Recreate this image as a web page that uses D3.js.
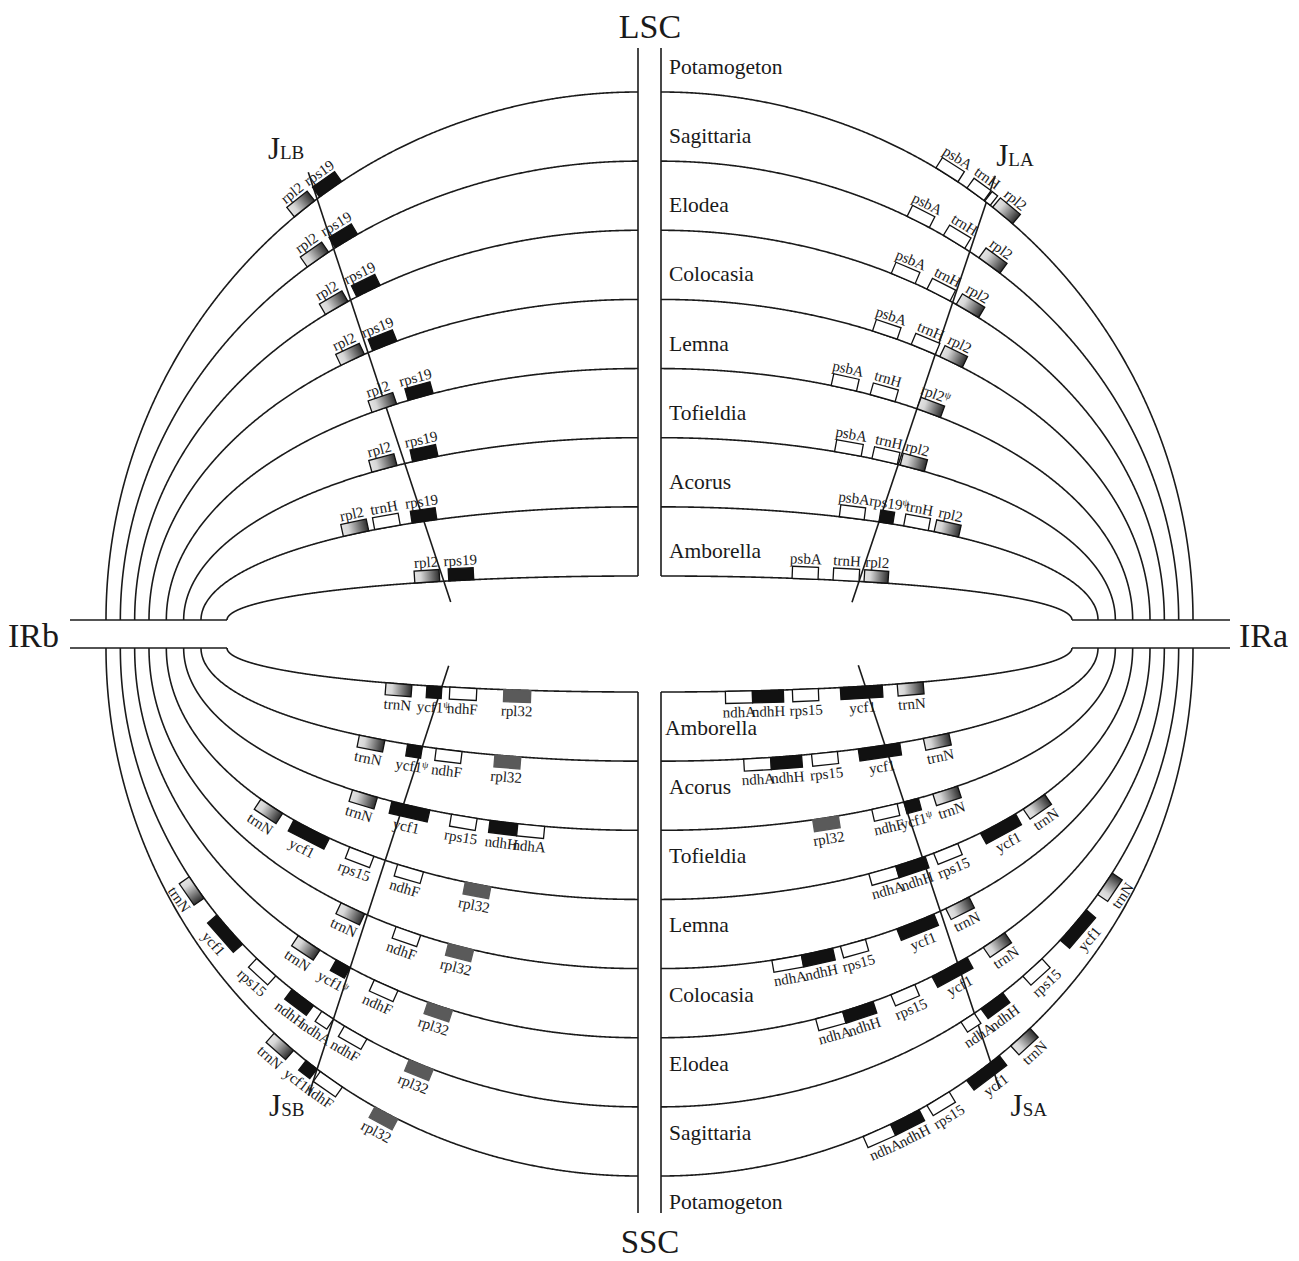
<!DOCTYPE html>
<html>
<head>
<meta charset="utf-8">
<script src="https://cdn.jsdelivr.net/npm/d3@7"></script>
<style>
  body { margin: 0; background: #fff; }
  svg text { font-family: "Liberation Serif", "Times New Roman", serif; fill: #1a1a1a; }
</style>
</head>
<body>
<div id="chart"></div>
<script>
// species, from the outermost arc to the innermost one
const species = ["Potamogeton", "Sagittaria", "Elodea", "Colocasia", "Lemna", "Tofieldia", "Acorus", "Amborella"];

// genes on each arc: [name, start, end] measured along the arc from the junction
// (positive = into the inverted repeat, negative = into the single copy region)
const genesJLB = [
    [["rpl2", 3, 29], ["rps19", -30, -3]],
    [["rpl2", 6, 32], ["rps19", -28, -2]],
    [["rpl2", 3, 29], ["rps19", -33, -7]],
    [["rpl2", 4, 30], ["rps19", -31, -5]],
    [["rpl2", -11, 15], ["rps19", -49, -23]],
    [["rpl2", 8, 34], ["rps19", -34, -8]],
    [["rpl2", 56, 82], ["trnH", 24, 50], ["rps19", -13, 12]],
    [["rpl2", 4, 29], ["rps19", -30, -5]]
];
const genesJLA = [
    [["psbA", -61, -35], ["trnH", -24, -3], ["", -2, 5], ["rpl2", 8, 34]],
    [["psbA", -72, -47], ["trnH", -31, -6], ["rpl2", 11, 37]],
    [["psbA", -68, -42], ["trnH", -29, -3], ["rpl2", 4, 30]],
    [["psbA", -67, -41], ["trnH", -26, 0], ["rpl2", 5, 30]],
    [["psbA", -89, -63], ["trnH", -49, -23], ["rpl2ψ", 0, 25]],
    [["psbA", -65, -38], ["trnH", -27, -1], ["rpl2", 2, 27]],
    [["psbA", -40, -15], ["rps19ψ", 0, 14], ["trnH", 25, 50], ["rpl2", 56, 81]],
    [["psbA", -67, -41], ["trnH", -26, 0], ["rpl2", 5, 29]]
];
const genesJSB = [
    [["trnN", 30, 56], ["ycf1ψ", 0, 14], ["ndhF", -31, -4], ["rpl32", -95, -69]],
    [["trnN", 178, 204], ["ycf1", 118, 157], ["rps15", 72, 98], ["ndhH", 24, 51], ["ndhA", 0, 14], ["ndhF", -39, -13], ["rpl32", -112, -86]],
    [["trnN", 35, 61], ["ycf1ψ", 0, 16], ["ndhF", -53, -27], ["rpl32", -111, -85]],
    [["trnN", 3, 29], ["ndhF", -57, -31], ["rpl32", -112, -86]],
    [["trnN", 113, 139], ["ycf1", 60, 100], ["rps15", 12, 38], ["ndhF", -40, -13], ["rpl32", -109, -83]],
    [["trnN", 27, 53], ["ycf1", -27, 12], ["rps15", -75, -49], ["ndhH", -116, -88], ["ndhA", -143, -116]],
    [["trnN", 38, 64], ["ycf1ψ", 0, 15], ["ndhF", -40, -14], ["rpl32", -99, -73]],
    [["trnN", 30, 56], ["ycf1ψ", 0, 15], ["ndhF", -35, -8], ["rpl32", -89, -62]]
];
const genesJSA = [
    [["ndhA", -148, -118], ["ndhH", -118, -86], ["rps15", -77, -51], ["ycf1", -30, 11], ["trnN", 26, 52]],
    [["ndhA", -16, 0], ["ndhH", 8, 35], ["rps15", 61, 87], ["ycf1", 113, 153], ["trnN", 172, 198]],
    [["ndhA", -153, -125], ["ndhH", -125, -93], ["rps15", -74, -48], ["ycf1", -29, 11], ["trnN", 30, 56]],
    [["ndhA", -176, -146], ["ndhH", -146, -114], ["rps15", -106, -80], ["ycf1", -47, -7], ["trnN", 6, 32]],
    [["ndhA", -56, -28], ["ndhH", -28, 3], ["rps15", 12, 38], ["ycf1", 63, 103], ["trnN", 112, 138]],
    [["rpl32", -93, -67], ["ndhF", -33, -7], ["ycf1ψ", 0, 15], ["trnN", 30, 56]],
    [["ndhA", -142, -115], ["ndhH", -115, -84], ["rps15", -74, -48], ["ycf1", -27, 15], ["trnN", 39, 65]],
    [["ndhA", -140, -113], ["ndhH", -113, -82], ["rps15", -73, -47], ["ycf1", -25, 17], ["trnN", 32, 58]]
];

// where each junction line meets the outermost / innermost arc (degrees along the arc)
const junctionOuter = [37.1, 37.7, 37.1, 38.3];
const junctionInner = [28.2, 28.8, 28.5, 29.8];
const junctionNames = ["LB", "LA", "SB", "SA"];


// ---- layout ----
const width = 1299, height = 1261;
const boxH = 12;

const svg = d3.select("#chart").append("svg")
    .attr("width", width)
    .attr("height", height);

// arc radii by species index
const rx = d3.scaleLinear().domain([0, 3, 6, 7]).range([532, 489, 437, 411]);
const ry = d3.scaleLinear().domain([0, 7]).range([528, 44]);
const offset = d3.scaleLinear().domain([0, 100]).range([0, 100]);

const cxL = 638, cxR = 661, cyT = 620, cyB = 648;

const quads = [
    {genes: genesJLB, sx: -1, sy: -1, cx: cxL, cy: cyT, lab: {dx: -4, dy: -13, anchor: "end"}},
    {genes: genesJLA, sx: 1, sy: -1, cx: cxR, cy: cyT, lab: {dx: 1, dy: -10, anchor: "start"}},
    {genes: genesJSB, sx: -1, sy: 1, cx: cxL, cy: cyB, lab: {dx: -4, dy: 20, anchor: "end"}},
    {genes: genesJSA, sx: 1, sy: 1, cx: cxR, cy: cyB, lab: {dx: 11, dy: 27, anchor: "start"}}
];

const geneFill = {
    rpl2: "url(#irGrad)", trnN: "url(#irGrad)",
    rps19: "#111", ycf1: "#111", ndhH: "#111",
    rpl32: "#5a5a5a",
    psbA: "#fff", trnH: "#fff", ndhF: "#fff", rps15: "#fff", ndhA: "#fff", "": "#fff"
};

// gradient used for the IR genes
const grad = svg.append("defs").append("linearGradient")
    .attr("id", "irGrad")
    .attr("x1", 0).attr("x2", 1).attr("y1", 0).attr("y2", 0);
grad.append("stop").attr("offset", 0).attr("stop-color", "#e4e4e4");
grad.append("stop").attr("offset", 0.25).attr("stop-color", "#d6d6d6");
grad.append("stop").attr("offset", 1).attr("stop-color", "#2e2e2e");

const line = d3.line();
const N = 720;

function ellipsePt(q, k, phi) {
    return [q.cx + q.sx * rx(k) * Math.sin(phi), q.cy + q.sy * ry(k) * Math.cos(phi)];
}

function buildArc(q, k) {
    let pts = [], cum = [0];
    for (let i = 0; i <= N; i++) pts.push(ellipsePt(q, k, i / N * Math.PI / 2));
    for (let i = 1; i <= N; i++) {
        cum.push(cum[i - 1] + Math.hypot(pts[i][0] - pts[i - 1][0], pts[i][1] - pts[i - 1][1]));
    }
    return {pts, cum};
}

function pointAt(arc, s) {
    let i = Math.min(Math.max(d3.bisectRight(arc.cum, s), 1), N);
    let a = arc.pts[i - 1], b = arc.pts[i];
    let t = (s - arc.cum[i - 1]) / (arc.cum[i] - arc.cum[i - 1]);
    let dx = b[0] - a[0], dy = b[1] - a[1];
    if (dx < 0) { dx = -dx; dy = -dy; }
    return {x: a[0] + t * (b[0] - a[0]), y: a[1] + t * (b[1] - a[1]), ang: Math.atan2(dy, dx) * 180 / Math.PI};
}

function crossing(arc, A, B) {
    const f = p => (B[0] - A[0]) * (p[1] - A[1]) - (B[1] - A[1]) * (p[0] - A[0]);
    for (let i = 0; i < N; i++) {
        let f0 = f(arc.pts[i]), f1 = f(arc.pts[i + 1]);
        if (f0 === 0 || f0 * f1 < 0) {
            let t = f0 / (f0 - f1);
            return arc.cum[i] + t * (arc.cum[i + 1] - arc.cum[i]);
        }
    }
    return 0;
}

const arcsG = svg.append("g");
const junctionG = svg.append("g");
const genesG = svg.append("g");

quads.forEach((q, qi) => {
    const rad = Math.PI / 180;
    const A = ellipsePt(q, 0, junctionOuter[qi] * rad);
    const B = ellipsePt(q, 7, junctionInner[qi] * rad);

    species.forEach((sp, k) => {
        const arc = buildArc(q, k);
        arcsG.append("path")
            .attr("d", line(arc.pts))
            .attr("fill", "none")
            .attr("stroke", "#1a1a1a")
            .attr("stroke-width", 1.6);

        const sJ = crossing(arc, A, B);

        q.genes[k].forEach(([g, a, b]) => {
            const s1 = sJ + offset(a), s2 = sJ + offset(b);
            const m = pointAt(arc, (s1 + s2) / 2);
            const L = s2 - s1;
            const base = g.replace("ψ", "");
            const grp = genesG.append("g")
                .attr("transform", `translate(${m.x},${m.y}) rotate(${m.ang})`);
            grp.append("rect")
                .attr("x", -L / 2)
                .attr("y", q.sy < 0 ? -boxH : 0)
                .attr("width", L)
                .attr("height", boxH)
                .attr("fill", geneFill[base])
                .attr("stroke", base === "rpl32" ? "#5a5a5a" : "#111")
                .attr("stroke-width", 1.3);
            if (g === "") return;
            const txt = grp.append("text")
                .attr("x", 0)
                .attr("y", q.sy < 0 ? -boxH - 3 : boxH + 14)
                .attr("text-anchor", "middle")
                .attr("font-size", "15px")
                .text(base);
            if (g.endsWith("ψ")) {
                txt.append("tspan")
                    .attr("font-size", "10px")
                    .attr("dy", "-5")
                    .text("ψ");
            }
        });
    });

    // junction line
    const len = Math.hypot(A[0] - B[0], A[1] - B[1]);
    const u = [(A[0] - B[0]) / len, (A[1] - B[1]) / len];
    const outer = [A[0] + u[0] * 28, A[1] + u[1] * 28];
    const inner = [B[0] - u[0] * 22, B[1] - u[1] * 22];
    junctionG.append("path")
        .attr("d", line([outer, inner]))
        .attr("stroke", "#1a1a1a")
        .attr("stroke-width", 1.6);

    const jt = junctionG.append("text")
        .attr("x", outer[0] + q.lab.dx)
        .attr("y", outer[1] + q.lab.dy)
        .attr("text-anchor", q.lab.anchor)
        .attr("font-size", "31px")
        .text("J");
    jt.append("tspan").attr("font-size", "19px").text(junctionNames[qi]);
});

// central vertical lines and IR lines
const frame = svg.append("g")
    .attr("stroke", "#1a1a1a")
    .attr("stroke-width", 1.6)
    .attr("fill", "none");
[cxL, cxR].forEach(x => {
    frame.append("path").attr("d", line([[x, 48], [x, cyT - ry(7)]]));
    frame.append("path").attr("d", line([[x, cyB + ry(7)], [x, 1213]]));
});
[cyT, cyB].forEach(y => {
    frame.append("path").attr("d", line([[70, y], [cxL - rx(7), y]]));
    frame.append("path").attr("d", line([[cxR + rx(7), y], [1230, y]]));
});

// region labels
svg.append("text").attr("x", 650).attr("y", 38).attr("text-anchor", "middle").attr("font-size", "34px").text("LSC");
svg.append("text").attr("x", 650).attr("y", 1253).attr("text-anchor", "middle").attr("font-size", "33px").text("SSC");
svg.append("text").attr("x", 8).attr("y", 647).attr("font-size", "34px").text("IRb");
svg.append("text").attr("x", 1239).attr("y", 647).attr("font-size", "34px").text("IRa");

// species names
species.forEach((sp, k) => {
    svg.append("text")
        .attr("x", 669)
        .attr("y", cyT - ry(k) - 18)
        .attr("font-size", "21.5px")
        .text(sp);
    svg.append("text")
        .attr("x", k === 7 ? 665 : 669)
        .attr("y", cyB + ry(k) + 33 + (k === 7 ? 10 : 0))
        .attr("font-size", "21.5px")
        .text(sp);
});
</script>
</body>
</html>
